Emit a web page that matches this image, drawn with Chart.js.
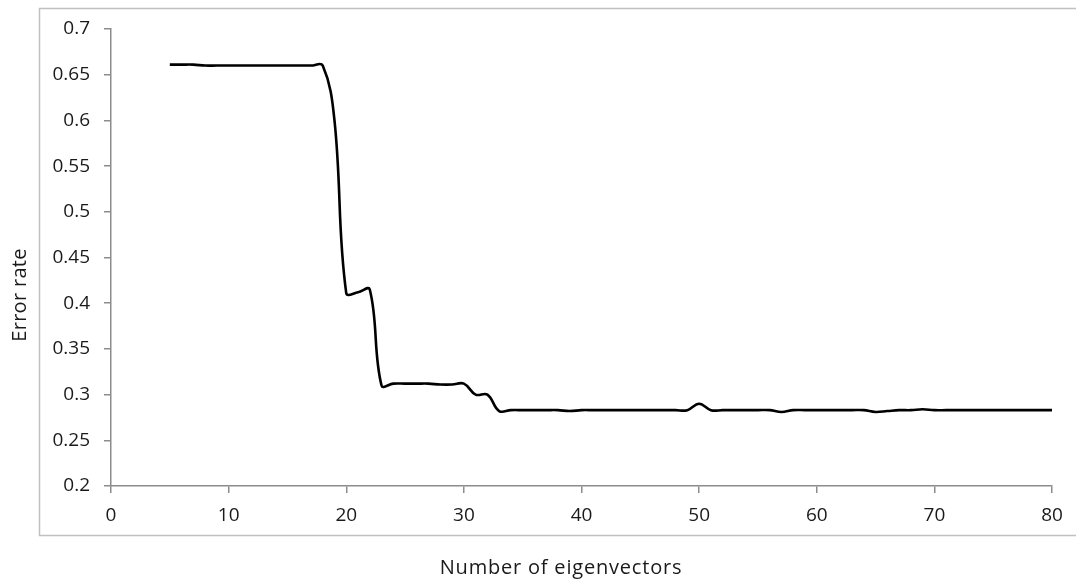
<!DOCTYPE html>
<html>
<head>
<meta charset="utf-8">
<script src="https://cdn.jsdelivr.net/npm/chart.js@4/dist/chart.umd.min.js"></script>
<style>
  html, body { margin: 0; padding: 0; background: #fff; }
  #wrap { width: 1076px; height: 585px; position: relative; }
</style>
</head>
<body>
<div id="wrap"><canvas id="c" width="1076" height="585"></canvas></div>
<script>
const eigenvectors = [5,6,7,8,9,10,11,12,13,14,15,16,17,18,19,20,21,22,23,24,25,26,27,28,29,30,
  31,32,33,34,35,36,37,38,39,40,41,42,43,44,45,46,47,48,49,50,51,52,53,54,55,56,57,58,59,60,
  61,62,63,64,65,66,67,68,69,70,71,72,73,74,75,76,77,78,79,80];
const errorRate = [0.661,0.661,0.661,0.660,0.660,0.660,0.660,0.660,0.660,0.660,0.660,0.660,0.660,0.660,0.600,0.411,0.412,0.415,0.310,0.312,
  0.312,0.312,0.312,0.311,0.311,0.312,0.300,0.300,0.282,0.283,0.283,0.283,0.283,0.283,0.282,0.283,
  0.283,0.283,0.283,0.283,0.283,0.283,0.283,0.283,0.283,0.290,0.283,0.283,0.283,0.283,0.283,0.283,0.281,0.283,0.283,0.283,
  0.283,0.283,0.283,0.283,0.281,0.282,0.283,0.283,0.284,0.283,0.283,0.283,0.283,0.283,0.283,0.283,0.283,0.283,0.283,0.283];
const xTickLabels = ['0','10','20','30','40','50','60','70','80'];
const yTickLabels = ['0.2','0.25','0.3','0.35','0.4','0.45','0.5','0.55','0.6','0.65','0.7'];
const xTitle = 'Number of eigenvectors';
const yTitle = 'Error rate';

const FONT = "'Open Sans', sans-serif";
const AXIS = '#8c8c8c';
const TEXT = '#1a1a1a';

const frame = {
  id: 'frame',
  beforeDraw(chart) {
    const ctx = chart.ctx;
    ctx.save();
    ctx.strokeStyle = '#c0c0c0';
    ctx.lineWidth = 1.5;
    ctx.strokeRect(39.5, 8.5, 1100, 527);
    ctx.restore();
  },
  afterDraw(chart) {
    const ctx = chart.ctx;
    ctx.save();
    ctx.fillStyle = TEXT;
    ctx.font = "20px " + FONT;
    ctx.textAlign = 'center';
    ctx.textBaseline = 'middle';
    if ('letterSpacing' in ctx) ctx.letterSpacing = '0.8px';
    ctx.fillText(xTitle, 561, 568);
    ctx.translate(20, 295);
    ctx.rotate(-Math.PI / 2);
    if ('letterSpacing' in ctx) ctx.letterSpacing = '0.3px';
    ctx.fillText(yTitle, 0, 0);
    ctx.restore();
  }
};

new Chart(document.getElementById('c'), {
  type: 'line',
  data: {
    datasets: [{
      data: eigenvectors.map((x, i) => ({x: x, y: errorRate[i]})),
      borderColor: '#000',
      borderWidth: 2.6,
      pointRadius: 0,
      tension: 0.4,
      fill: false
    }]
  },
  options: {
    responsive: false,
    animation: false,
    layout: { padding: { left: 0, top: 29, right: 24, bottom: 0 } },
    plugins: { legend: { display: false }, tooltip: { enabled: false } },
    scales: {
      x: {
        type: 'linear', min: 0, max: 80,
        afterFit(s) { s.height = 99; },
        ticks: { stepSize: 10, color: TEXT, font: { family: FONT, size: 19 }, padding: 11,
          callback: (v) => xTickLabels[xTickLabels.indexOf(String(v))] ?? '' },
        grid: { drawOnChartArea: false, drawTicks: true, tickLength: 7, color: AXIS, lineWidth: 1.5 },
        border: { display: true, color: AXIS, width: 1.5 }
      },
      y: {
        type: 'linear', min: 0.2, max: 0.7,
        afterFit(s) { s.width = 111; },
        ticks: { stepSize: 0.05, color: TEXT, font: { family: FONT, size: 19 }, padding: 14,
          callback: (v) => { const l = String(Math.round(v * 100) / 100); return yTickLabels.includes(l) ? l : ''; } },
        grid: { drawOnChartArea: false, drawTicks: true, tickLength: 7, color: AXIS, lineWidth: 1.5 },
        border: { display: true, color: AXIS, width: 1.5 }
      }
    }
  },
  plugins: [frame]
});
</script>
</body>
</html>
